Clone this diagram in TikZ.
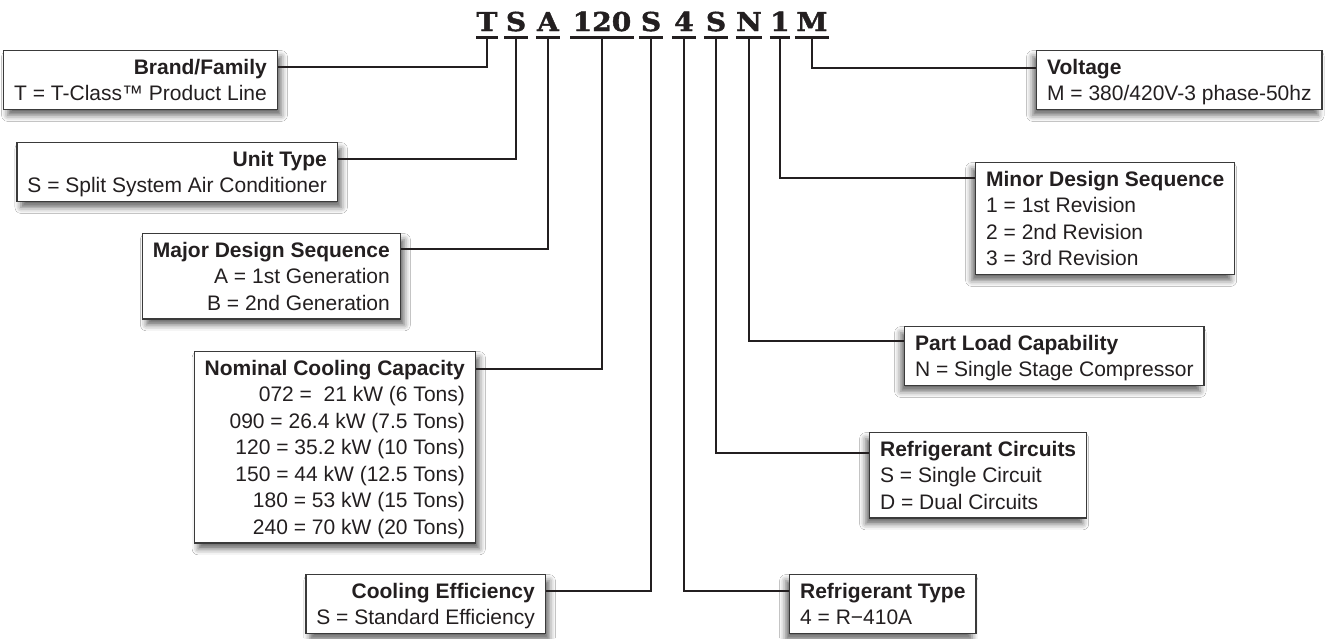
\documentclass[tikz,border=0pt]{standalone}
\usepackage{fontspec}
\setmainfont{Liberation Sans}
\newfontfamily\codefont{DejaVu Serif}[FakeStretch=1.08, BoldFeatures={FakeBold=1.6}]
\usetikzlibrary{shadows.blur}
\definecolor{codeink}{HTML}{231F20}
\definecolor{cardline}{HTML}{3A3A3A}
\newcommand\cardtop{\rule{0pt}{21pt}}
\newcommand\cardbot{\rule[-6pt]{0pt}{6pt}}
\tikzset{
  card/.style={draw=cardline, line width=1.3pt, fill=white, text=codeink,
    inner xsep=10.5pt, inner ysep=2.6pt,
    font=\fontsize{21}{26.5}\selectfont},
  lcard/.style={card, align=right, anchor=north east,
    blur shadow={shadow xshift=4pt, shadow yshift=-6pt,
      shadow blur radius=6pt, shadow opacity=60}},
  rcard/.style={card, align=left, anchor=north west,
    blur shadow={shadow xshift=-4pt, shadow yshift=-6pt,
      shadow blur radius=6pt, shadow opacity=60}},
  codechar/.style={inner sep=0pt, anchor=base, text height=20pt,
    text depth=6pt, text=codeink,
    font=\codefont\bfseries\fontsize{26}{26}\selectfont},
  uline/.style={codeink, line width=3pt},
  lead/.style={codeink, line width=2.6pt},
}

\begin{document}
\begin{tikzpicture}[x=1pt,y=-1pt]
\fill[white] (0,0) rectangle (1331,638);
\useasboundingbox (0,0) rectangle (1331,638);

% model number
\foreach \nm/\x/\w/\ch in {T/487/21/T, Sa/516/23/S, A/548/24/A, Cap/602/63/120,
    Sb/651/24/S, Four/684/24/4, Sc/716/24/S, N/749/24/N, One/780/20/1, M/812/34/M} {
  \node[codechar, minimum width=\w pt] (l\nm) at (\x,31) {\ch};
  \draw[uline] (l\nm.south west) -- (l\nm.south east);
}

% left side
\node[lcard] (brand) at (278,50) {\cardtop\textbf{Brand/Family}\\T = T-Class™ Product Line\cardbot};
\node[lcard] (unit) at (338,142) {\cardtop\textbf{Unit Type}\\S = Split System Air Conditioner\cardbot};
\node[lcard] (major) at (401,233) {\cardtop\textbf{Major Design Sequence}\\A = 1st Generation\\B = 2nd Generation\cardbot};
\node[lcard] (nominal) at (476,351) {\cardtop\textbf{Nominal Cooling Capacity}\\
  072 = \ 21 kW (6 Tons)\\090 = 26.4 kW (7.5 Tons)\\120 = 35.2 kW (10 Tons)\\
  150 = 44 kW (12.5 Tons)\\180 = 53 kW (15 Tons)\\240 = 70 kW (20 Tons)\cardbot};
\node[lcard] (cooling) at (546,574) {\cardtop\textbf{Cooling Efficiency}\\S = Standard Efficiency\cardbot};

% right side
\node[rcard] (reftype) at (789,574) {\cardtop\textbf{Refrigerant Type}\\4 = R−410A\cardbot};
\node[rcard] (circuits) at (869,432) {\cardtop\textbf{Refrigerant Circuits}\\S = Single Circuit\\D = Dual Circuits\cardbot};
\node[rcard] (partload) at (904,326) {\cardtop\textbf{Part Load Capability}\\N = Single Stage Compressor\cardbot};
\node[rcard] (minor) at (975,162) {\cardtop\textbf{Minor Design Sequence}\\1 = 1st Revision\\2 = 2nd Revision\\3 = 3rd Revision\cardbot};
\node[rcard] (voltage) at (1036,50) {\cardtop\textbf{Voltage}\\M = 380/420V-3 phase-50hz\cardbot};

% leads
\draw[lead] (lT.south) |- ([yshift=-17pt]brand.north east);
\draw[lead] (lSa.south) |- ([yshift=-17pt]unit.north east);
\draw[lead] (lA.south) |- ([yshift=-16pt]major.north east);
\draw[lead] (lCap.south) |- ([yshift=-18pt]nominal.north east);
\draw[lead] (lSb.south) |- ([yshift=-17pt]cooling.north east);
\draw[lead] (lFour.south) |- ([yshift=-17pt]reftype.north west);
\draw[lead] (lSc.south) |- ([yshift=-21pt]circuits.north west);
\draw[lead] (lN.south) |- ([yshift=-15pt]partload.north west);
\draw[lead] (lOne.south) |- ([yshift=-16pt]minor.north west);
\draw[lead] (lM.south) |- ([yshift=-18pt]voltage.north west);
\end{tikzpicture}
\end{document}
